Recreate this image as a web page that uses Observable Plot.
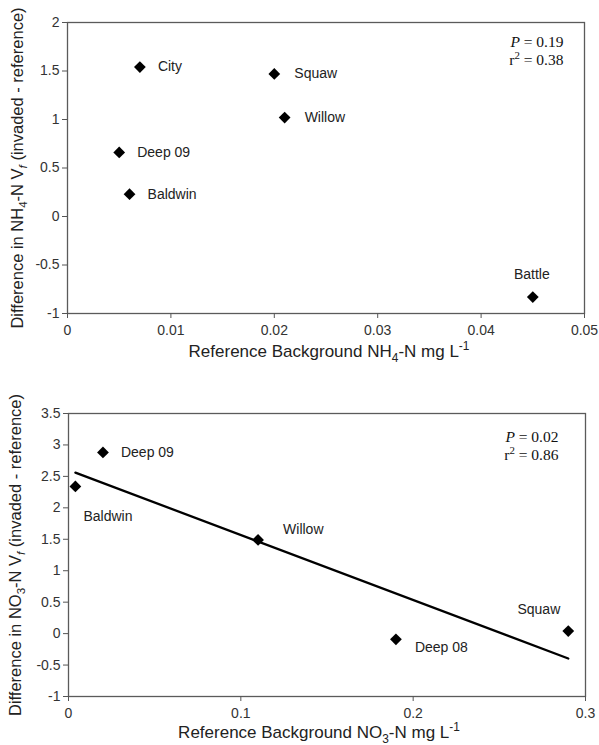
<!DOCTYPE html>
<html><head><meta charset="utf-8">
<script src="https://cdn.jsdelivr.net/npm/d3@7"></script>
<script src="https://cdn.jsdelivr.net/npm/@observablehq/plot@0.6"></script>
<style>body{margin:0;background:#fff} svg{display:block}</style>
</head><body><div id="c"></div><script>
// ---- data ----
const nh4Sites = ["City", "Squaw", "Willow", "Deep 09", "Baldwin", "Battle"];
const nh4X = [0.007, 0.020, 0.021, 0.005, 0.006, 0.045];
const nh4Y = [1.54, 1.47, 1.02, 0.66, 0.23, -0.83];
const no3Sites = ["Deep 09", "Baldwin", "Willow", "Deep 08", "Squaw"];
const no3X = [0.020, 0.004, 0.110, 0.190, 0.290];
const no3Y = [2.88, 2.34, 1.49, -0.09, 0.04];
const nh4XTicks = [0, 0.01, 0.02, 0.03, 0.04, 0.05];
const nh4YTicks = [-1, -0.5, 0, 0.5, 1, 1.5, 2];
const no3XTicks = [0, 0.1, 0.2, 0.3];
const no3YTicks = [-1, -0.5, 0, 0.5, 1, 1.5, 2, 2.5, 3, 3.5];
const nh4Stats = {P: "0.19", r2: "0.38"};
const no3Stats = {P: "0.02", r2: "0.86"};

// ---- label placement (layout only) ----
const nh4LabelPos = {
  "City": {dx: 18, dy: -1, anchor: "start"},
  "Squaw": {dx: 20, dy: 0, anchor: "start"},
  "Willow": {dx: 20, dy: 0, anchor: "start"},
  "Deep 09": {dx: 18, dy: 0, anchor: "start"},
  "Baldwin": {dx: 18, dy: 0, anchor: "start"},
  "Battle": {dx: -1, dy: -22, anchor: "middle"}
};
const no3LabelPos = {
  "Deep 09": {dx: 18, dy: 0, anchor: "start"},
  "Baldwin": {dx: 8, dy: 30, anchor: "start"},
  "Willow": {dx: 25, dy: -10, anchor: "start"},
  "Deep 08": {dx: 19, dy: 8, anchor: "start"},
  "Squaw": {dx: -8, dy: -22, anchor: "end"}
};

const nh4 = nh4Sites.map((s, i) => ({site: s, x: nh4X[i], y: nh4Y[i]}));
const no3 = no3Sites.map((s, i) => ({site: s, x: no3X[i], y: no3Y[i]}));

const SANS = "'Liberation Sans', Arial, sans-serif";
const SERIF = "'Liberation Serif', 'Times New Roman', serif";
const fmt = d => String(d);

function makeChart(o) {
  const marks = [
    Plot.frame({stroke: "#5a5a5a", strokeWidth: 1.3}),
    Plot.axisX({ticks: o.xTicks, tickFormat: fmt, tickSize: 5, tickPadding: 7, label: null, stroke: "#555", fontSize: 14}),
    Plot.axisY({ticks: o.yTicks, tickFormat: fmt, tickSize: 5, tickPadding: 3, label: null, stroke: "#555", fontSize: 14}),
  ];
  if (o.fit) marks.push(Plot.linearRegressionY(o.data, {x: "x", y: "y", stroke: "#000", strokeWidth: 2.3, ci: 0}));
  marks.push(Plot.dot(o.data, {x: "x", y: "y", symbol: "diamond2", r: 5.3, fill: "#000"}));
  for (const d of o.data) {
    const p = o.labelPos[d.site];
    marks.push(Plot.text([d], {x: "x", y: "y", text: "site", dx: p.dx, dy: p.dy, textAnchor: p.anchor, lineAnchor: "middle", fontSize: 14, fill: "#222"}));
  }
  marks.push(Plot.text([o.xLabel], {text: d => d, frameAnchor: "bottom", textAnchor: "middle", lineAnchor: "middle", dx: o.xLabelDx, dy: o.xLabelDy, fontSize: 17, fill: "#222"}));
  marks.push(Plot.text([o.yLabel], {text: d => d, frameAnchor: "left", textAnchor: "middle", lineAnchor: "middle", rotate: -90, dx: o.yLabelDx, fontSize: 16.5, fill: "#222"}));
  marks.push(Plot.text(["P = " + o.stats.P], {text: d => d, frameAnchor: "top-right", textAnchor: "end", lineAnchor: "middle", dx: o.statDx, dy: o.statDy, fontFamily: SERIF, fontSize: 15.5, fill: "#111"}));
  marks.push(Plot.text(["r2 = " + o.stats.r2], {text: d => d, frameAnchor: "top-right", textAnchor: "end", lineAnchor: "middle", dx: o.statDx, dy: o.statDy + 18, fontFamily: SERIF, fontSize: 15.5, fill: "#111"}));
  const svg = Plot.plot({
    width: 599, height: o.height,
    marginLeft: o.ml, marginRight: o.mr, marginTop: o.mt, marginBottom: o.mb,
    style: {fontFamily: SANS, fontSize: "14px", color: "#333", background: "#fff", overflow: "visible"},
    x: {domain: o.xDomain},
    y: {domain: o.yDomain},
    marks
  });
  rich(svg, o.xLabel, o.xParts, 17);
  rich(svg, o.yLabel, o.yParts, 16.5);
  rich(svg, "P = " + o.stats.P, [{t: "P", it: true}, " = " + o.stats.P], 15.5);
  rich(svg, "r2 = " + o.stats.r2, ["r", {t: "2", sup: true}, " = " + o.stats.r2], 15.5);
  return svg;
}

function rich(svg, plain, parts, fs) {
  d3.select(svg).selectAll("text").filter(function () { return this.textContent === plain; }).each(function () {
    const t = d3.select(this);
    t.text(null);
    let cur = 0;
    for (const p of parts) {
      const s = typeof p === "string" ? {t: p} : p;
      const target = s.sub ? 0.28 * fs : s.sup ? -0.4 * fs : 0;
      const ts = t.append("tspan").text(s.t);
      if (target !== cur) { ts.attr("dy", target - cur); cur = target; }
      if (s.sub || s.sup) ts.attr("font-size", 0.7 * fs);
      if (s.it) ts.attr("font-style", "italic");
    }
  });
}

const c = document.getElementById("c");
c.appendChild(makeChart({
  data: nh4, labelPos: nh4LabelPos, xTicks: nh4XTicks, yTicks: nh4YTicks,
  xDomain: [0, 0.05], yDomain: [-1, 2], fit: false,
  height: 372, ml: 67, mr: 15, mt: 22, mb: 59,
  xLabel: "Reference Background NH4-N mg L-1",
  xParts: ["Reference Background NH", {t: "4", sub: true}, "-N mg L", {t: "-1", sup: true}],
  yLabel: "Difference in NH4-N Vf (invaded - reference)",
  yParts: ["Difference in NH", {t: "4", sub: true}, "-N V", {t: "f", sub: true, it: true}, " (invaded - reference)"],
  xLabelDx: 3, xLabelDy: 38, yLabelDx: -50,
  stats: nh4Stats, statDx: -21, statDy: 20
}));
c.appendChild(makeChart({
  data: no3, labelPos: no3LabelPos, xTicks: no3XTicks, yTicks: no3YTicks,
  xDomain: [0, 0.3], yDomain: [-1, 3.5], fit: true,
  height: 373, ml: 68, mr: 14, mt: 41, mb: 49,
  xLabel: "Reference Background NO3-N mg L-1",
  xParts: ["Reference Background NO", {t: "3", sub: true}, "-N mg L", {t: "-1", sup: true}],
  yLabel: "Difference in NO3-N Vf (invaded - reference)",
  yParts: ["Difference in NO", {t: "3", sub: true}, "-N V", {t: "f", sub: true, it: true}, " (invaded - reference)"],
  xLabelDx: -8, xLabelDy: 36, yLabelDx: -53,
  stats: no3Stats, statDx: -27, statDy: 24
}));
</script></body></html>
